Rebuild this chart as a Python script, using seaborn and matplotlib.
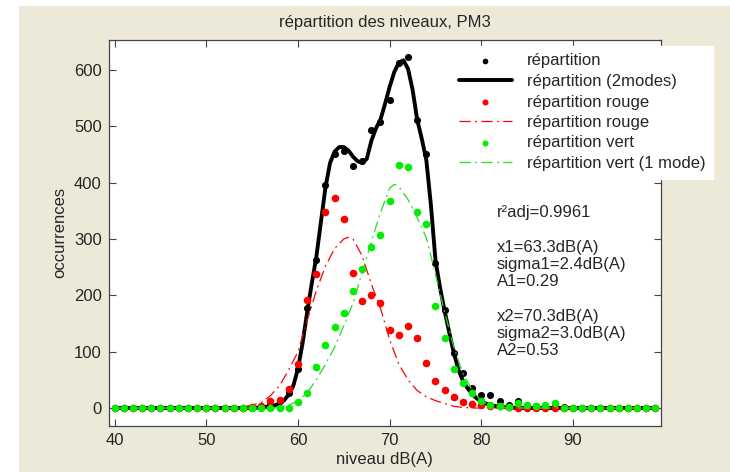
import numpy as np
import pandas as pd
import matplotlib
matplotlib.use("Agg")
import matplotlib.pyplot as plt
from matplotlib.patches import Rectangle
import seaborn as sns

# ---------------- data ----------------
niveaux = list(range(40, 100))

repartition = [0]*16 + [2, 5, 12, 26, 70, 177, 263, 395, 451, 456, 430, 439, 493, 508,
                        547, 612, 622, 511, 451, 258, 174, 97, 62, 35, 23, 23, 12, 6,
                        12, 4, 3, 3, 6, 1] + [0]*10
rouge = [0]*15 + [1, 4, 12, 15, 33, 78, 192, 238, 347, 372, 336, 240, 190, 201, 186,
                  138, 130, 146, 125, 79, 48, 32, 20, 11, 7, 5, 4, 3, 1] + [0]*16
vert = [0]*19 + [0, 11, 27, 72, 111, 143, 169, 208, 246, 285, 307, 368, 431, 427, 347,
                 327, 181, 124, 69, 45, 27, 12, 6, 4, 2, 8, 5, 4, 5, 9] + [0]*11

fit2_x = [40, 55, 56, 56.5, 57, 57.5, 58, 58.5, 59, 59.5, 60, 60.5, 61, 61.5, 62, 62.5,
          63, 63.5, 64, 64.5, 65, 65.5, 66, 66.5, 67, 67.5, 68, 68.5, 69, 69.5, 70, 70.5,
          71, 71.5, 72, 72.5, 73, 73.5, 74, 74.5, 75, 75.5, 76, 76.5, 77, 77.5, 78, 78.5,
          79, 79.5, 80, 80.5, 81, 81.5, 82, 83, 84, 99]
fit2_y = [0, 0, 1, 2, 3, 5, 8, 14, 24, 40, 70, 115, 170, 221, 268, 330,
          392, 435, 455, 463, 463, 457, 446, 438, 435, 442, 474, 496, 512, 540, 570, 596,
          613, 617, 602, 565, 512, 478, 440, 360, 262, 213, 172, 134, 98, 68, 48, 35,
          25, 17, 11, 8, 5, 3.5, 2, 1, 0, 0]

rouge_fit_x = [40, 53.5, 54, 55, 56, 57, 58, 59, 60, 61, 62, 63, 64, 65, 65.5, 66, 67, 68,
               69, 70, 71, 72, 73, 74, 75, 76, 77, 78, 79, 99]
rouge_fit_y = [0, 0, 2, 5, 10, 22, 40, 68, 100, 155, 208, 252, 283, 300, 303, 300, 270, 220,
               177, 121, 78, 50, 31, 20, 13, 8, 3, 1, 0, 0]

vert_fit_x = [40, 57.5, 58, 59, 60, 61, 62, 63, 64, 65, 66, 67, 68, 69, 70, 70.5, 71, 72,
              73, 74, 75, 76, 77, 78, 79, 80, 81, 82, 83, 99]
vert_fit_y = [0, 0, 2, 5, 13, 27, 50, 78, 108, 146, 186, 240, 295, 347, 390, 397, 393, 370,
              338, 302, 237, 170, 108, 61, 32, 12, 5, 1, 0, 0]

x_ticks = [40, 50, 60, 70, 80, 90]
y_ticks = [0, 100, 200, 300, 400, 500, 600]

legend_labels = ["répartition", "répartition (2modes)", "répartition rouge",
                 "répartition rouge", "répartition vert", "répartition vert (1 mode)"]
fit_text = ["r²adj=0.9961", "", "x1=63.3dB(A)", "sigma1=2.4dB(A)", "A1=0.29", "",
            "x2=70.3dB(A)", "sigma2=3.0dB(A)", "A2=0.53"]

# ---------------- style ----------------
sns.set_style("ticks")
plt.rcParams["font.family"] = ["Liberation Sans", "DejaVu Sans"]
plt.rcParams["text.color"] = "#262626"
plt.rcParams["axes.labelcolor"] = "#262626"
plt.rcParams["xtick.color"] = "#444444"
plt.rcParams["ytick.color"] = "#444444"
plt.rcParams["xtick.labelcolor"] = "#262626"
plt.rcParams["ytick.labelcolor"] = "#262626"

W, H = 730, 472
FS = 12
fig = plt.figure(figsize=(W/100, H/100), dpi=100)
fig.patch.set_facecolor("white")
fig.patches.append(Rectangle((19/W, 0), 1 - 19/W, 1 - 6/H, transform=fig.transFigure,
                             facecolor="#ECE9D8", edgecolor="none", zorder=-10))

ax = fig.add_axes([108.7/W, 1 - 425.7/H, (661 - 108.7)/W, (425.7 - 40)/H])
ax.set_facecolor("white")

pts = pd.DataFrame({"niveau": niveaux, "rep": repartition, "rouge": rouge, "vert": vert})
dashdot = (0, (9, 3.5, 1.5, 3.5))

sns.scatterplot(data=pts, x="niveau", y="rep", color="black", s=26, linewidth=0,
                ax=ax, label=legend_labels[0], zorder=3)
sns.lineplot(x=fit2_x, y=fit2_y, color="black", linewidth=2.8, ax=ax, sort=False,
             estimator=None, label=legend_labels[1], zorder=4)
sns.scatterplot(data=pts, x="niveau", y="rouge", color="#ff0000", s=30, linewidth=0,
                ax=ax, label=legend_labels[2], zorder=5)
sns.lineplot(x=rouge_fit_x, y=rouge_fit_y, color="#ff0000", linewidth=0.9, ax=ax,
             sort=False, estimator=None, linestyle=dashdot, label=legend_labels[3], zorder=6)
sns.scatterplot(data=pts, x="niveau", y="vert", color="#00ee00", s=30, linewidth=0,
                ax=ax, label=legend_labels[4], zorder=7)
sns.lineplot(x=vert_fit_x, y=vert_fit_y, color="#22dd22", linewidth=0.9, ax=ax,
             sort=False, estimator=None, linestyle=dashdot, label=legend_labels[5], zorder=8)

ax.set_xlim(39.35, 99.6)
ax.set_ylim(-31.4, 653)
ax.set_xticks(x_ticks)
ax.set_yticks(y_ticks)
ax.tick_params(direction="in", top=True, right=True, length=5, width=0.8, labelsize=FS, pad=5)
for sp in ax.spines.values():
    sp.set_visible(True)
    sp.set_color("#444444")
    sp.set_linewidth(0.9)

ax.set_xlabel("niveau dB(A)", fontsize=FS, labelpad=3)
ax.set_ylabel("occurrences", fontsize=FS, labelpad=5)
fig.text(0.5 * (108.7 + 661) / W, 1 - 22/H, "répartition des niveaux, PM3",
         ha="center", va="center", fontsize=FS)

handles, labels = ax.get_legend_handles_labels()
leg = ax.legend(handles, labels, loc="upper right", bbox_to_anchor=(713/W, 1 - 46/H),
                bbox_transform=fig.transFigure, fontsize=FS, frameon=True, fancybox=False,
                borderaxespad=0, handlelength=3.2, handletextpad=0.9, labelspacing=0.33,
                borderpad=0.45, markerscale=0.8)
leg.get_frame().set_facecolor("white")
leg.get_frame().set_edgecolor("white")
leg.get_frame().set_alpha(1)
leg.set_zorder(20)

y0 = 213
for i, line in enumerate(fit_text):
    if line:
        fig.text(497/W, 1 - (y0 + i * 17.2)/H, line, ha="left", va="center", fontsize=FS)

fig.savefig("out.png", dpi=100)
